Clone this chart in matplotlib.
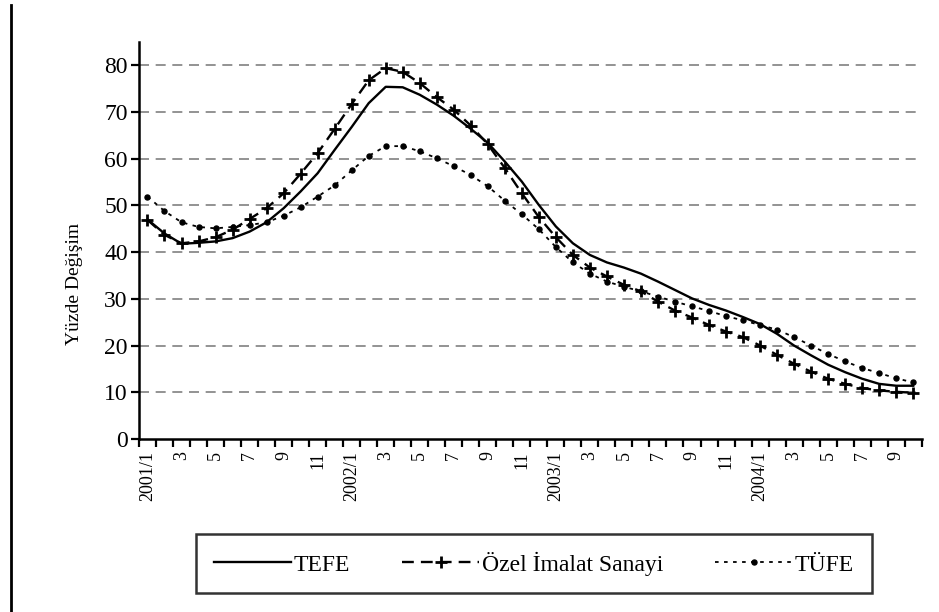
import matplotlib
matplotlib.use("Agg")
import matplotlib.pyplot as plt
from matplotlib.lines import Line2D
import numpy as np

plt.rcParams['font.family'] = ['Liberation Serif', 'DejaVu Serif']

# aylar: 2001/1 - 2004/10
etiketler = ["2001/1", "3", "5", "7", "9", "11",
             "2002/1", "3", "5", "7", "9", "11",
             "2003/1", "3", "5", "7", "9", "11",
             "2004/1", "3", "5", "7", "9"]

tefe = [47.0, 44.0, 41.8, 42.0, 42.3, 43.0, 44.4, 46.4, 49.4, 53.0, 56.9, 61.9,
        66.8, 71.9, 75.4, 75.3, 73.7, 71.6, 69.2, 66.4, 63.4, 59.4, 55.1, 50.1,
        45.5, 41.9, 39.4, 37.8, 36.7, 35.4, 33.7, 31.9, 30.1, 28.7, 27.5, 26.1,
        24.6, 22.5, 20.0, 17.9, 15.9, 14.3, 12.9, 11.8, 11.4, 11.4]

ozel = [46.9, 43.7, 41.9, 42.3, 43.2, 44.8, 47.1, 49.4, 52.6, 56.8, 61.2, 66.4,
        71.7, 76.8, 79.4, 78.6, 76.2, 73.2, 70.5, 67.1, 63.1, 58.0, 52.6, 47.5,
        43.2, 39.4, 36.7, 34.8, 33.0, 31.6, 29.4, 27.5, 26.0, 24.4, 23.0, 21.8,
        20.0, 18.0, 16.1, 14.4, 12.9, 11.8, 10.9, 10.4, 10.1, 9.9]

tufe = [51.9, 48.8, 46.4, 45.4, 45.1, 45.4, 45.8, 46.4, 47.8, 49.6, 51.9, 54.3,
        57.5, 60.6, 62.7, 62.7, 61.6, 60.1, 58.4, 56.5, 54.1, 51.0, 48.1, 44.9,
        41.1, 37.8, 35.4, 33.7, 32.6, 31.6, 30.5, 29.4, 28.4, 27.4, 26.3, 25.4,
        24.4, 23.4, 21.8, 20.0, 18.2, 16.6, 15.2, 14.1, 13.0, 12.1]

x = np.arange(len(tefe))

fig = plt.figure(figsize=(9.39, 6.12), dpi=100)
ax = fig.add_axes([0.148, 0.2827, 0.8336, 0.6487])

ax.plot(x, tefe, color="black", lw=1.7, label="TEFE")
ax.plot(x, ozel, color="black", lw=1.7, linestyle=(0, (5, 3)), marker="+",
        markersize=8, markeredgewidth=2, label="Özel İmalat Sanayi")
ax.plot(x, tufe, color="black", lw=1.3, linestyle=(0, (2, 3)), marker="o",
        markersize=3.6, label="TÜFE")

ax.set_xlim(-0.5, len(tefe) - 0.5)
ax.set_ylim(0, 85)
ax.set_yticks(range(0, 81, 10))
ax.set_xticks(np.arange(-0.5, len(tefe), 1.0))
ax.set_xticklabels([])
ax.set_xticks(np.arange(0, len(tefe), 2), minor=True)
ax.set_xticklabels(etiketler, minor=True, rotation=90, fontsize=13)
ax.tick_params(axis="x", which="minor", length=0, pad=9)
ax.tick_params(axis="x", which="major", length=6, width=1.6, direction="out")
ax.tick_params(axis="y", length=6, width=1.6, labelsize=17, pad=2)

for v in range(10, 81, 10):
    ax.axhline(v, color="#808080", lw=1.2, linestyle=(0, (6, 4)), zorder=0)

for s in ["top", "right"]:
    ax.spines[s].set_visible(False)
for s in ["left", "bottom"]:
    ax.spines[s].set_linewidth(1.8)

ax.set_ylabel("Yüzde Değişim", fontsize=14)
ax.yaxis.set_label_coords(-0.0715, 0.39)

leg = fig.legend(loc="center", bbox_to_anchor=(0.5687, 0.0792),
                 ncol=3, fontsize=17, frameon=True, fancybox=False,
                 handlelength=3.26, handletextpad=0.12, columnspacing=2.2,
                 borderpad=0.75, borderaxespad=0)
leg.get_frame().set_edgecolor("black")
leg.get_frame().set_linewidth(1.8)

fig.add_artist(Line2D([0.0117, 0.0117], [0.0, 0.992], color="black", lw=2,
                      transform=fig.transFigure))

fig.savefig("out.png", dpi=100)
